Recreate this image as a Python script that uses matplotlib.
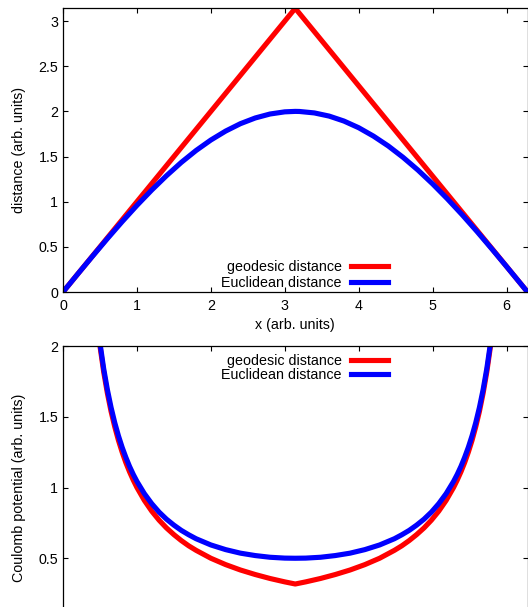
import matplotlib
matplotlib.use("Agg")
import matplotlib.pyplot as plt

plt.rcParams['font.family'] = ['Liberation Sans', 'DejaVu Sans']
plt.rcParams['font.size'] = 10.3

# ---- data ----
# top panel: distances
x_geo = [0.0, 3.1416, 6.2832]
d_geo = [0.0, 3.1416, 0.0]

x_euc = [0.0, 0.2, 0.4, 0.6, 0.8, 1.0, 1.2, 1.4, 1.6, 1.8, 2.0, 2.2, 2.4, 2.6,
         2.8, 3.0, 3.1416, 3.2, 3.4, 3.6, 3.8, 4.0, 4.2, 4.4, 4.6, 4.8, 5.0,
         5.2, 5.4, 5.6, 5.8, 6.0, 6.2, 6.2832]
d_euc = [0.0, 0.200, 0.397, 0.591, 0.779, 0.959, 1.129, 1.288, 1.435, 1.567,
         1.683, 1.782, 1.864, 1.927, 1.971, 1.995, 2.000, 1.999, 1.983, 1.948,
         1.893, 1.819, 1.726, 1.617, 1.491, 1.351, 1.197, 1.031, 0.855, 0.670,
         0.478, 0.282, 0.083, 0.0]

# bottom panel: Coulomb potentials
x_pot = [0.45, 0.5, 0.55, 0.6, 0.65, 0.7, 0.75, 0.8, 0.85, 0.9, 0.95, 1.0,
         1.1, 1.2, 1.3, 1.4, 1.5, 1.6, 1.7, 1.8, 2.0, 2.2, 2.4, 2.6, 2.8, 3.0,
         3.1416,
         3.283, 3.483, 3.683, 3.883, 4.083, 4.283, 4.483, 4.583, 4.683, 4.783,
         4.883, 4.983, 5.083, 5.183, 5.283, 5.333, 5.383, 5.433, 5.483, 5.533,
         5.583, 5.633, 5.683, 5.733, 5.783, 5.833]
v_geo = [2.222, 2.000, 1.818, 1.667, 1.538, 1.429, 1.333, 1.250, 1.176, 1.111,
         1.053, 1.000, 0.909, 0.833, 0.769, 0.714, 0.667, 0.625, 0.588, 0.556,
         0.500, 0.455, 0.417, 0.385, 0.357, 0.333,
         0.318,
         0.333, 0.357, 0.385, 0.417, 0.455, 0.500, 0.556, 0.588, 0.625, 0.667,
         0.714, 0.769, 0.833, 0.909, 1.000, 1.053, 1.111, 1.176, 1.250, 1.333,
         1.429, 1.538, 1.667, 1.818, 2.000, 2.222]
v_euc = [2.241, 2.021, 1.841, 1.692, 1.566, 1.458, 1.365, 1.284, 1.213, 1.149,
         1.093, 1.043, 0.957, 0.886, 0.826, 0.776, 0.734, 0.697, 0.666, 0.638,
         0.594, 0.561, 0.536, 0.519, 0.507, 0.501,
         0.500,
         0.501, 0.507, 0.519, 0.536, 0.561, 0.594, 0.638, 0.666, 0.697, 0.734,
         0.776, 0.826, 0.886, 0.957, 1.043, 1.093, 1.149, 1.213, 1.284, 1.365,
         1.458, 1.566, 1.692, 1.841, 2.021, 2.241]

labels = ['geodesic distance', 'Euclidean distance']
colors = ['#ff0000', '#0000ff']

x_ticks = [0, 1, 2, 3, 4, 5, 6]
y_ticks_top = [0, 0.5, 1, 1.5, 2, 2.5, 3]
y_ticks_bot = [0.5, 1, 1.5, 2]

# ---- layout ----
W, H = 528, 607
fig = plt.figure(figsize=(W / 100, H / 100), dpi=100)

left_px, right_px = 63, 527.5
ax1 = fig.add_axes([left_px / W, (H - 292) / H, (right_px - left_px) / W, (292 - 8.3) / H])
ax2 = fig.add_axes([left_px / W, (H - 629) / H, (right_px - left_px) / W, (629 - 346) / H])

lw = 3.7
fs = 10.3
for ax in (ax1, ax2):
    ax.set_xlim(0, 6.2832)
    ax.set_xticks(x_ticks)
    ax.tick_params(direction='in', length=3.6, width=0.8, top=True, right=True,
                   labelsize=fs, colors='black')
    ax.tick_params(axis='y', pad=3.5)
    ax.tick_params(axis='x', pad=4.8)
    for s in ax.spines.values():
        s.set_linewidth(0.9)

ax1.plot(x_geo, d_geo, color=colors[0], lw=lw, solid_joinstyle='miter', label=labels[0])
ax1.plot(x_euc, d_euc, color=colors[1], lw=lw, label=labels[1])
ax1.set_ylim(0, 3.1416)
ax1.set_yticks(y_ticks_top)
ax1.set_yticklabels(['0', '0.5', '1', '1.5', '2', '2.5', '3'])
ax1.set_xlabel('x (arb. units)', fontsize=fs)
ax1.xaxis.set_label_coords(0.5, -0.09)
ax1.set_ylabel('distance (arb. units)', fontsize=fs)
ax1.yaxis.set_label_coords(-0.0795, 0.5)
ax1.legend(loc='lower right', bbox_to_anchor=(0.6995, 0.008), markerfirst=False,
           frameon=False, borderpad=0, borderaxespad=0, handlelength=2.6,
           handletextpad=0.64, labelspacing=0.1, fontsize=fs)

ax2.plot(x_pot, v_geo, color=colors[0], lw=lw, label=labels[0])
ax2.plot(x_pot, v_euc, color=colors[1], lw=lw, label=labels[1])
ax2.set_ylim(0, 2)
ax2.set_yticks(y_ticks_bot)
ax2.set_yticklabels(['0.5', '1', '1.5', '2'])
ax2.tick_params(axis='x', labelbottom=False)
ax2.set_ylabel('Coulomb potential (arb. units)', fontsize=fs)
ax2.yaxis.set_label_coords(-0.0795, 0.5)
ax2.legend(loc='upper right', bbox_to_anchor=(0.6995, 0.972), markerfirst=False,
           frameon=False, borderpad=0, borderaxespad=0, handlelength=2.6,
           handletextpad=0.64, labelspacing=0.0, fontsize=fs)

fig.savefig('out.png', dpi=100)
